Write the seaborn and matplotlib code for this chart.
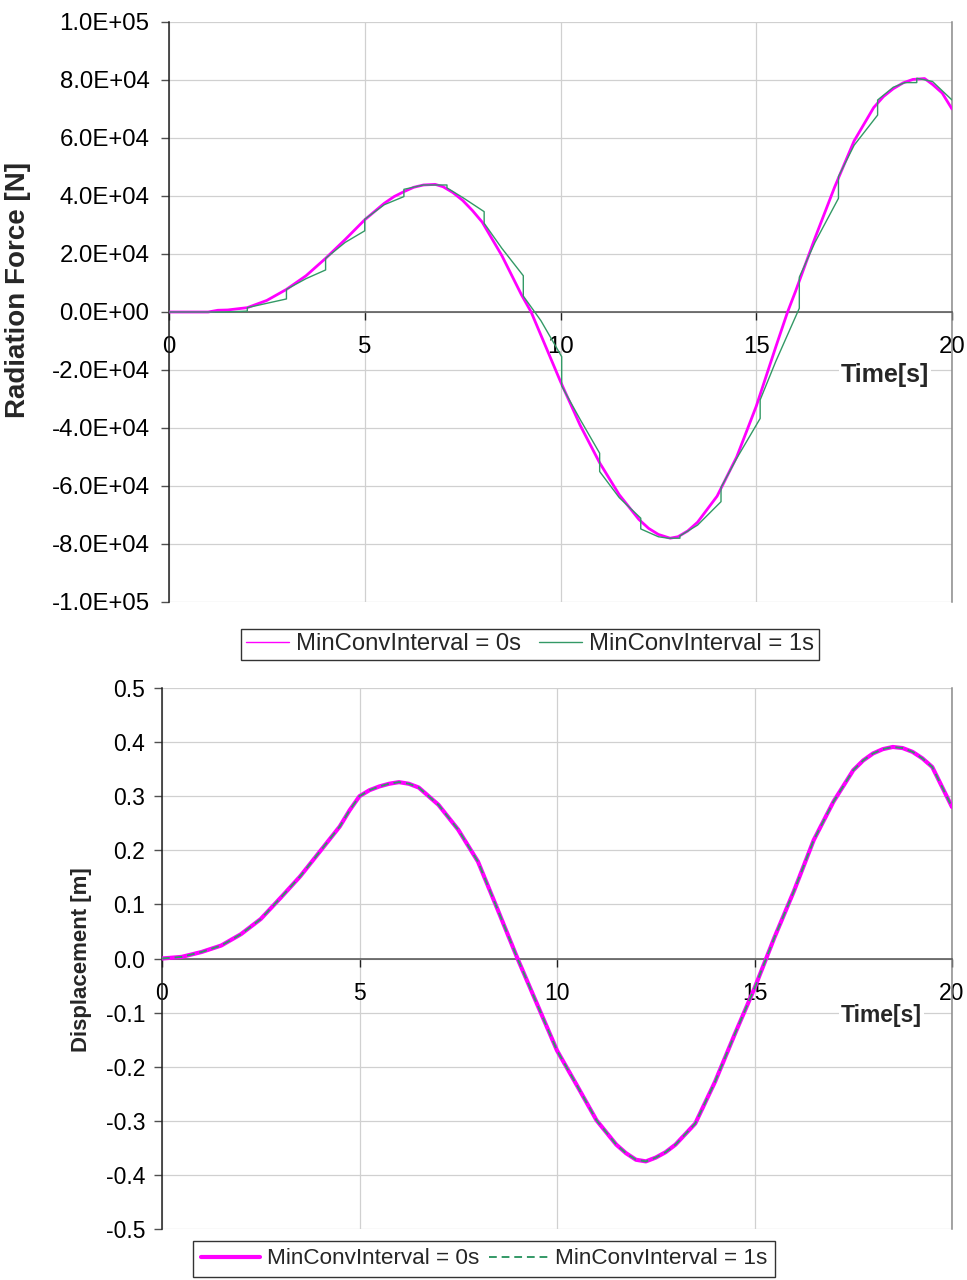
import matplotlib
matplotlib.use('Agg')
import matplotlib.pyplot as plt
import seaborn as sns
from matplotlib.ticker import FixedLocator, FuncFormatter

# ---------------- data ----------------
time_0s = [0, 1.0, 1.25, 1.5, 2.0, 2.5, 3.0, 3.5, 4.0, 4.5, 5.0, 5.5, 5.75, 6.0, 6.25, 6.5,
           6.8, 7.0, 7.25, 7.5, 7.75, 8.0, 8.5, 9.0, 9.25, 9.5, 10.0, 10.5, 11.0, 11.5,
           12.0, 12.25, 12.5, 12.8, 13.0, 13.25, 13.5, 14.0, 14.5, 15.0, 15.5, 15.8, 16.0,
           16.5, 17.0, 17.5, 18.0, 18.25, 18.5, 18.75, 19.0, 19.3, 19.5, 19.75, 20.0]
force_0s = [0, 0, 600, 700, 1500, 4000, 7800, 12500, 18500, 25000, 31800, 37500, 39800,
            41500, 43000, 43800, 44000, 43200, 41200, 38500, 35000, 31000, 19500, 6000, 0,
            -8000, -24000, -39000, -52000, -63000, -71500, -74600, -76700, -78000,
            -77500, -75500, -72500, -63500, -50000, -32500, -12000, 0, 7000, 25500,
            43000, 59000, 70500, 74300, 77000, 79000, 80200, 80500, 78500, 75500, 70000]

time_1s = [0, 1.4, 2.0, 2.0, 2.5, 3.0, 3.0, 3.5, 4.0, 4.0, 4.5, 5.0, 5.0, 5.5, 6.0, 6.0,
           6.5, 7.1, 7.1, 7.5, 8.05, 8.05, 8.5, 9.05, 9.05, 9.5, 10.03, 10.03, 10.5, 11.0,
           11.0, 11.5, 12.05, 12.05, 12.5, 12.75, 13.05, 13.05, 13.5, 14.1, 14.1, 14.5,
           15.1, 15.1, 15.5, 16.1, 16.1, 16.5, 17.1, 17.1, 17.5, 18.1, 18.1, 18.5, 18.8,
           19.1, 19.1, 19.5, 20.0]
force_1s = [0, 0, 300, 1500, 3000, 4500, 7800, 11500, 14500, 18500, 24000, 28000, 32000,
            37000, 39800, 42300, 43800, 43800, 42800, 39500, 34600, 30600, 22000, 12500,
            5500, -3000, -15400, -25500, -37000, -48700, -55000, -64000, -71100, -74800,
            -77500, -78000, -78000, -77200, -73500, -65400, -60500, -50500, -36700,
            -30300, -17000, 1300, 12000, 24000, 39200, 46700, 57500, 67900, 73100, 77500,
            79100, 79100, 80600, 79500, 73100]

time_disp = [0, 0.5, 1, 1.5, 2, 2.5, 3, 3.5, 4, 4.5, 4.75, 5, 5.25, 5.5, 5.75, 6, 6.25,
             6.5, 7, 7.5, 8, 8.5, 9, 9.5, 10, 10.5, 11, 11.5, 11.75, 12, 12.25, 12.5,
             12.75, 13, 13.5, 14, 14.5, 15, 15.5, 16, 16.5, 17, 17.5, 17.75, 18, 18.25,
             18.5, 18.75, 19, 19.25, 19.5, 20]
disp_0s = [0.0, 0.003, 0.012, 0.024, 0.045, 0.073, 0.112, 0.152, 0.198, 0.244, 0.274,
           0.300, 0.311, 0.318, 0.323, 0.326, 0.323, 0.316, 0.284, 0.238, 0.179, 0.090,
           0.0, -0.085, -0.170, -0.234, -0.299, -0.344, -0.360, -0.372, -0.375, -0.368,
           -0.358, -0.344, -0.305, -0.228, -0.140, -0.055, 0.038, 0.125, 0.219, 0.290,
           0.348, 0.366, 0.379, 0.387, 0.391, 0.389, 0.382, 0.370, 0.354, 0.280]
disp_1s = [0.0, 0.003, 0.012, 0.024, 0.045, 0.073, 0.112, 0.152, 0.198, 0.244, 0.274,
           0.300, 0.311, 0.318, 0.323, 0.326, 0.323, 0.316, 0.284, 0.238, 0.179, 0.090,
           0.0, -0.085, -0.170, -0.234, -0.299, -0.344, -0.360, -0.372, -0.375, -0.368,
           -0.358, -0.344, -0.305, -0.228, -0.140, -0.055, 0.038, 0.125, 0.219, 0.290,
           0.348, 0.366, 0.379, 0.387, 0.391, 0.389, 0.382, 0.370, 0.354, 0.280]

x_ticks = [0, 5, 10, 15, 20]
force_ticks = [-100000, -80000, -60000, -40000, -20000, 0, 20000, 40000, 60000, 80000, 100000]
disp_ticks = [-0.5, -0.4, -0.3, -0.2, -0.1, 0.0, 0.1, 0.2, 0.3, 0.4, 0.5]
label_0s = 'MinConvInterval = 0s'
label_1s = 'MinConvInterval = 1s'

MAGENTA = '#FF00FF'
GREEN = '#339966'
GRID = '#D0D0D0'

sns.set_theme(style='white')
plt.rcParams['font.family'] = ['Liberation Sans', 'DejaVu Sans']

fig = plt.figure(figsize=(9.67, 12.8), dpi=100)
ax1 = fig.add_axes([169 / 967, 1 - 602 / 1280, 783 / 967, 580 / 1280])
ax2 = fig.add_axes([162 / 967, 1 - 1229 / 1280, 790 / 967, 541 / 1280])

# ---------------- top panel ----------------
sns.lineplot(x=time_0s, y=force_0s, ax=ax1, color=MAGENTA, lw=2.0, estimator=None,
             sort=False, label=label_0s, zorder=3)
sns.lineplot(x=time_1s, y=force_1s, ax=ax1, color=GREEN, lw=1.0, estimator=None,
             sort=False, label=label_1s, zorder=4)

# ---------------- bottom panel ----------------
sns.lineplot(x=time_disp, y=disp_0s, ax=ax2, color=MAGENTA, lw=3.0, estimator=None,
             sort=False, label=label_0s, zorder=3)
sns.lineplot(x=time_disp, y=disp_1s, ax=ax2, color=GREEN, lw=1.4, estimator=None,
             sort=False, label=label_1s, zorder=4, dashes=False)
ax2.get_lines()[-1].set_dashes((4, 2.5))


def style_axes(ax, yticks, ylim, fmt, fs, ypad):
    ax.set_xlim(0, 20)
    ax.set_ylim(*ylim)
    ax.xaxis.set_major_locator(FixedLocator(x_ticks))
    ax.yaxis.set_major_locator(FixedLocator(yticks))
    ax.yaxis.set_major_formatter(FuncFormatter(fmt))
    ax.xaxis.set_major_formatter(FuncFormatter(lambda v, p: f"{v:g}"))
    ax.set_axisbelow(True)
    ax.grid(True, color=GRID, lw=0.9)
    ax.spines['bottom'].set_position(('data', 0))
    ax.spines['bottom'].set_color('#505050')
    ax.spines['bottom'].set_linewidth(1.1)
    ax.spines['left'].set_color('#202020')
    ax.spines['left'].set_linewidth(1.1)
    ax.spines['top'].set_visible(False)
    ax.spines['right'].set_color('#8a8a8a')
    ax.spines['right'].set_linewidth(1.1)
    ax.tick_params(axis='x', direction='out', length=6, width=1, color='#202020',
                   pad=11, labelsize=fs, labelcolor='black', bottom=True)
    ax.tick_params(axis='y', direction='out', length=6, width=1, color='#505050',
                   pad=ypad, labelsize=fs, labelcolor='black', left=True)
    leg = ax.get_legend()
    if leg is not None:
        leg.remove()


style_axes(ax1, force_ticks, (-100000, 100000), lambda v, p: f"{v:.1E}", 17.3, 8)
style_axes(ax2, disp_ticks, (-0.5, 0.5), lambda v, p: f"{v:.1f}", 16.5, 6)

label_box = dict(facecolor='white', edgecolor='none', pad=1.5)

ax1.set_ylabel('Radiation Force [N]', fontsize=20, fontweight='bold')
ax1.yaxis.set_label_coords(-0.176, 0.538)
ax1.text(0.914, 0.391, 'Time[s]', transform=ax1.transAxes, ha='center', va='center',
         fontsize=18, fontweight='bold', bbox=label_box, zorder=10)

ax2.set_ylabel('Displacement [m]', fontsize=16, fontweight='bold')
ax2.yaxis.set_label_coords(-0.089, 0.497)
ax2.text(0.911, 0.394, 'Time[s]', transform=ax2.transAxes, ha='center', va='center',
         fontsize=16.5, fontweight='bold', bbox=label_box, zorder=10)

# ---------------- legends ----------------
h1 = ax1.get_lines()[:2]
leg1 = fig.legend(h1, [label_0s, label_1s], loc='center',
                  bbox_to_anchor=(530 / 967, 1 - 644.5 / 1280), ncol=2, frameon=True,
                  fancybox=False, edgecolor='black', fontsize=17.2, handlelength=1.8,
                  columnspacing=0.75, handletextpad=0.3, borderpad=0.2,
                  borderaxespad=0)
leg1.get_frame().set_linewidth(1.0)
for ln in leg1.get_lines():
    ln.set_linewidth(1.0)

h2 = ax2.get_lines()[:2]
leg2 = fig.legend(h2, [label_0s, label_1s], loc='center',
                  bbox_to_anchor=(484 / 967, 1 - 1259 / 1280), ncol=2, frameon=True,
                  fancybox=False, edgecolor='black', fontsize=16.2, handlelength=2.65,
                  columnspacing=0.4, handletextpad=0.3, borderpad=0.35,
                  borderaxespad=0)
leg2.get_frame().set_linewidth(1.0)

fig.savefig('out.png', dpi=100)
